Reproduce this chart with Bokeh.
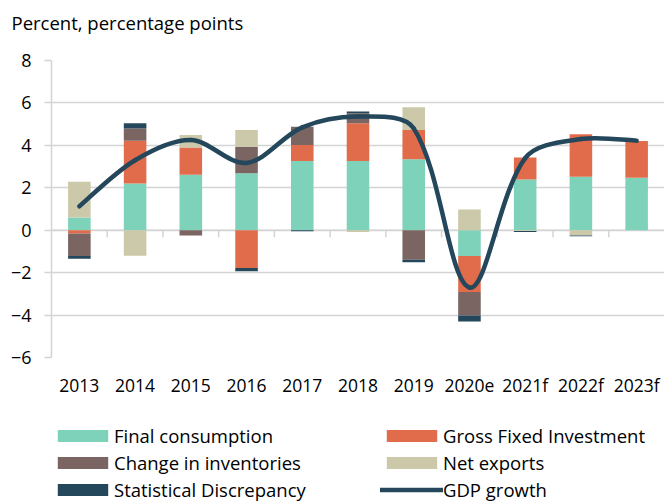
import numpy as np
from bokeh.plotting import figure
from bokeh.layouts import column
from bokeh.models import Range1d, FixedTicker, Legend, LegendItem, Title
from bokeh.embed import file_html
from bokeh.resources import INLINE

# ---- data ----
years = ["2013", "2014", "2015", "2016", "2017", "2018", "2019", "2020e", "2021f", "2022f", "2023f"]
final_consumption = [0.60, 2.20, 2.61, 2.68, 3.26, 3.26, 3.35, -1.21, 2.39, 2.52, 2.47]
gross_fixed_investment = [-0.16, 2.02, 1.29, -1.78, 0.76, 1.78, 1.37, -1.70, 1.04, 2.00, 1.73]
change_in_inventories = [-1.05, 0.58, -0.25, 1.26, 0.86, 0.47, -1.39, -1.11, 0.00, 0.00, 0.00]
net_exports = [1.68, -1.20, 0.59, 0.78, 0.00, -0.08, 1.08, 0.98, -0.04, -0.25, 0.00]
statistical_discrepancy = [-0.13, 0.24, 0.00, -0.16, -0.05, 0.09, -0.12, -0.28, -0.04, -0.03, 0.00]
gdp_growth = [1.13, 3.30, 4.25, 3.17, 4.85, 5.36, 4.80, -2.70, 3.40, 4.30, 4.22]
y_ticks = [-6, -4, -2, 0, 2, 4, 6, 8]

series = [
    ("Final consumption", final_consumption, "#7fd2ba"),
    ("Gross Fixed Investment", gross_fixed_investment, "#e06c4b"),
    ("Change in inventories", change_in_inventories, "#7a6562"),
    ("Net exports", net_exports, "#cbc9aa"),
    ("Statistical Discrepancy", statistical_discrepancy, "#24475c"),
]
line_color = "#24475c"
grid_color = "#d4d4d4"
FONT = "Open Sans"

x = np.arange(len(years), dtype=float)
bar_w = 0.405
W = 664


def bare(fig):
    fig.outline_line_color = None
    fig.xgrid.visible = False
    fig.ygrid.visible = False
    return fig


# ---- title strip ----
tf = bare(figure(width=W, height=44, output_backend="svg", toolbar_location=None,
                 x_range=Range1d(0, 1), y_range=Range1d(0, 1), x_axis_type=None, y_axis_type=None,
                 min_border_left=51, min_border_right=0, min_border_top=0, min_border_bottom=0))
tf.title = Title(text="Percent, percentage points", align="left", offset=-40, standoff=15,
                 vertical_align="bottom",
                 text_font=FONT, text_font_size="18.5px", text_font_style="normal", text_color="#000000")

# ---- main chart ----
p = figure(width=W, height=356, output_backend="svg", toolbar_location=None,
           x_range=Range1d(-0.5, len(years) - 0.5), y_range=Range1d(min(y_ticks), max(y_ticks)),
           min_border_left=51, min_border_right=0, min_border_top=16, min_border_bottom=43)
p.outline_line_color = None

# grid
p.xgrid.visible = False
p.ygrid.ticker = FixedTicker(ticks=y_ticks)
p.ygrid.grid_line_color = grid_color
p.ygrid.grid_line_width = 1.5

# y axis
p.yaxis.ticker = FixedTicker(ticks=y_ticks)
p.yaxis.axis_line_color = grid_color
p.yaxis.axis_line_width = 1.5
p.yaxis.major_tick_line_color = grid_color
p.yaxis.major_tick_line_width = 1.5
p.yaxis.major_tick_out = 7
p.yaxis.major_tick_in = 0
p.yaxis.minor_tick_line_color = None
p.yaxis.major_label_standoff = 13
p.yaxis.major_label_text_font = FONT
p.yaxis.major_label_text_font_size = "18px"
p.yaxis.major_label_text_color = "#000000"

# x axis (labels at bottom)
p.xaxis.ticker = FixedTicker(ticks=list(x))
p.xaxis.major_label_overrides = {float(i): y for i, y in enumerate(years)}
p.xaxis.major_label_overrides.update({int(i): y for i, y in enumerate(years)})
p.xaxis.axis_line_color = None
p.xaxis.major_tick_line_color = None
p.xaxis.minor_tick_line_color = None
p.xaxis.major_label_standoff = 9
p.xaxis.major_label_text_font = FONT
p.xaxis.major_label_text_font_size = "17.5px"
p.xaxis.major_label_text_color = "#000000"

# category-axis line at zero with tick marks at category boundaries
px_per_unit_y = 297.0 / (max(y_ticks) - min(y_ticks))
tick_len = 7 / px_per_unit_y
p.segment(x0=[-0.5], y0=[0], x1=[len(years) - 0.5], y1=[0], line_color=grid_color, line_width=1.5)
bounds = x[1:] - 0.5
p.segment(x0=bounds, y0=np.zeros_like(bounds), x1=bounds, y1=np.zeros_like(bounds) - tick_len,
          line_color=grid_color, line_width=1.5)

# stacked bars (positives and negatives stacked separately)
pos = np.zeros(len(years))
neg = np.zeros(len(years))
for name, vals, col in series:
    v = np.array(vals, dtype=float)
    bottom = np.where(v >= 0, pos, neg)
    top = bottom + v
    pos = np.where(v >= 0, pos + v, pos)
    neg = np.where(v < 0, neg + v, neg)
    p.vbar(x=x, bottom=bottom, top=top, width=bar_w, fill_color=col, line_color=None)

# smoothed GDP line: cubic Bezier segments through the data points,
# tangent lengths weighted by neighbouring segment lengths (on-screen)
g = np.array(gdp_growth, dtype=float)
n = len(g)
sx = 613.0 / len(years)  # px per category
sy = px_per_unit_y
seg = np.hypot(np.diff(x) * sx, np.diff(g) * sy)
tension = 1.0 / 3.0
out_dx = np.zeros(n); out_dy = np.zeros(n); in_dx = np.zeros(n); in_dy = np.zeros(n)
for i in range(n):
    if i == 0:
        tx, ty = x[1] - x[0], g[1] - g[0]
        d_in, d_out = seg[0], seg[0]
    elif i == n - 1:
        tx, ty = x[-1] - x[-2], g[-1] - g[-2]
        d_in, d_out = seg[-1], seg[-1]
    else:
        tx, ty = x[i + 1] - x[i - 1], g[i + 1] - g[i - 1]
        d_in, d_out = seg[i - 1], seg[i]
    tot = d_in + d_out
    out_dx[i] = tx * tension * d_out / tot
    out_dy[i] = ty * tension * d_out / tot
    in_dx[i] = tx * tension * d_in / tot
    in_dy[i] = ty * tension * d_in / tot
p.bezier(x0=x[:-1], y0=g[:-1], x1=x[1:], y1=g[1:],
         cx0=x[:-1] + out_dx[:-1], cy0=g[:-1] + out_dy[:-1],
         cx1=x[1:] - in_dx[1:], cy1=g[1:] - in_dy[1:],
         line_color=line_color, line_width=4.5, line_cap="round")

# ---- legend strip below the chart ----
lg = bare(figure(width=W, height=102, output_backend="svg", toolbar_location=None,
                 x_range=Range1d(-0.5, len(years) - 0.5), y_range=Range1d(min(y_ticks), max(y_ticks)),
                 x_axis_type=None, y_axis_type=None,
                 min_border_left=51, min_border_right=0, min_border_top=0, min_border_bottom=0))
items = []
for name, vals, col in series:
    r = lg.vbar(x=x, top=vals, width=bar_w, fill_color=col, line_color=None, visible=False)
    items.append(LegendItem(label=name, renderers=[r]))
lr = lg.line(x=x, y=gdp_growth, line_color=line_color, line_width=4.5, line_cap="round", visible=False)
items.append(LegendItem(label="GDP growth", renderers=[lr]))

legend = Legend(items=items, ncols=2, orientation="horizontal", location=(0, 0),
                glyph_width=63, glyph_height=15, label_standoff=0, label_width=264,
                spacing=2, padding=0, margin=0, border_line_color=None, background_fill_alpha=0,
                inactive_fill_alpha=0,
                label_text_font=FONT, label_text_font_size="18.5px", label_text_color="#000000")
lg.add_layout(legend, "center")

open("out.html", "w").write(file_html(column(tf, p, lg, spacing=0), INLINE))
